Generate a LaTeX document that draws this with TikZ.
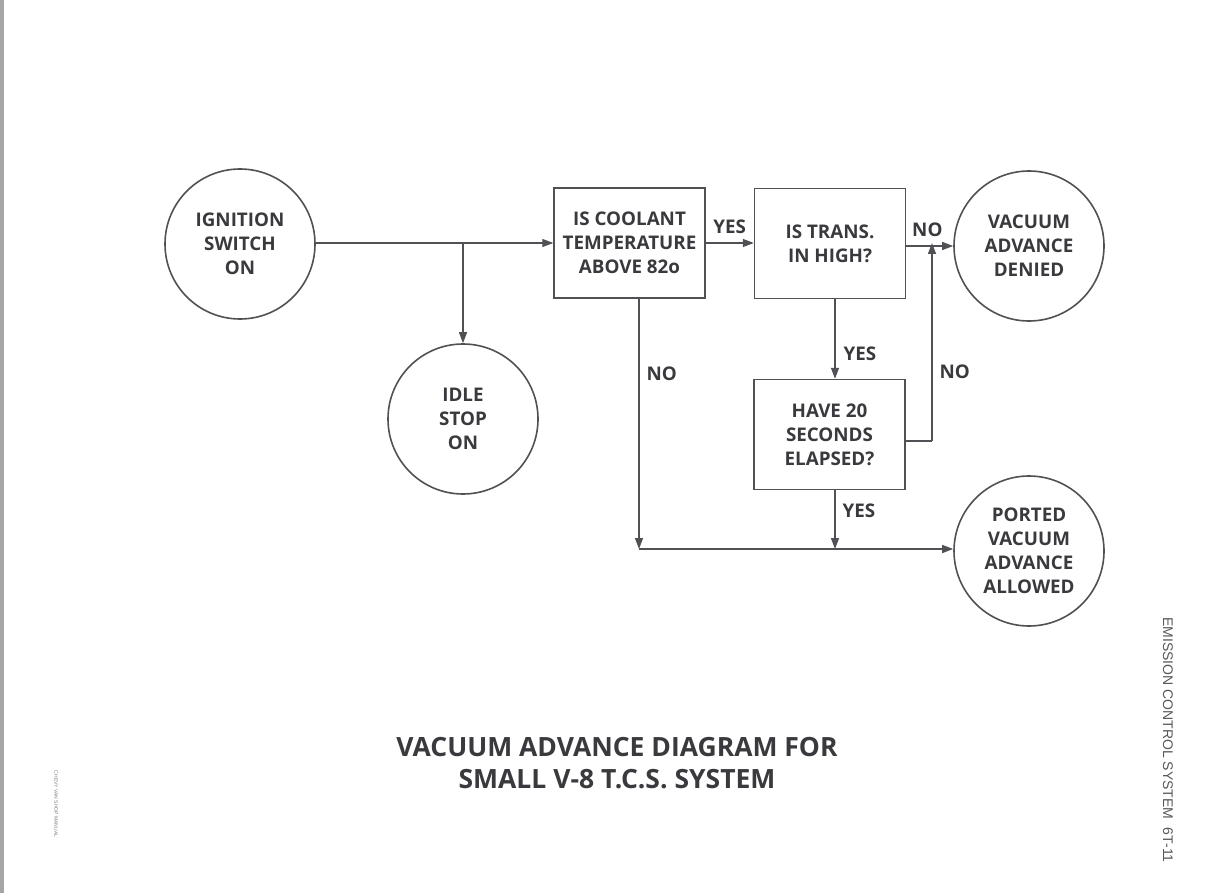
\documentclass[tikz,border=0pt]{standalone}
\usepackage{fontspec}
\setmainfont{Open Sans}
\newfontfamily\sidefont{Liberation Sans}
\usetikzlibrary{arrows.meta}
\definecolor{ink}{HTML}{3A3A3E}
\definecolor{linec}{HTML}{505055}
\tikzset{
  x=1pt,y=-1pt,
  every node/.style={text=ink,font=\fontsize{18.8}{24}\selectfont\bfseries,align=center},
  circ/.style={draw=linec,line width=1.6pt,circle,minimum size=150pt,inner sep=0pt},
  boxx/.style={draw=linec,line width=1.4pt,rectangle,minimum width=151pt,minimum height=110pt,inner sep=0pt},
  conn/.style={draw=linec,line width=1.3pt},
  arr/.style={conn,-{Triangle[length=11pt,width=8pt]}},
  lbl/.style={inner sep=0pt},
}
\begin{document}
\begin{tikzpicture}
\useasboundingbox (0,0) rectangle (1207,893);
\fill[gray!70] (0,0) rectangle (4,893);
\node[circ] (ign) at (240,244) {IGNITION\\SWITCH\\ON};
\node[circ] (idle) at (463,419) {IDLE\\STOP\\ON};
\node[boxx] (cool) at (629.5,243) {IS COOLANT\\TEMPERATURE\\ABOVE 82o};
\node[boxx] (trans) at (830,243.5) {IS TRANS.\\IN HIGH?};
\node[circ] (denied) at (1029,246) {VACUUM\\ADVANCE\\DENIED};
\node[boxx] (secs) at (829.5,434.5) {HAVE 20\\SECONDS\\ELAPSED?};
\node[circ] (ported) at (1029,551) {PORTED\\VACUUM\\ADVANCE\\ALLOWED};

\coordinate (j1) at (463,243);
\coordinate (nodrop) at (639,549);
\coordinate (yesdrop) at (835,549);
\coordinate (merge) at (932,246);
\coordinate (nocorner) at (932,441);

\draw[arr] (ign.east |- j1) -- (cool.west |- j1);
\draw[arr] (j1) -- (idle.north);
\draw[arr] (cool.east |- j1) -- (trans.west |- j1) node[lbl,midway,above=9pt] {YES};
\draw[arr] (trans.east |- merge) -- (denied.west) node[lbl,pos=0.45,above=9pt] {NO};
\draw[arr] (trans.south -| yesdrop) -- (secs.north -| yesdrop) node[lbl,pos=0.68,right=8pt] {YES};
\draw[conn] (secs.east |- nocorner) -- (nocorner);
\draw[arr] (nocorner) -- ([yshift=3pt]merge) node[lbl,pos=0.35,right=7pt] {NO};
\draw[arr] (cool.south -| nodrop) -- (nodrop) node[lbl,pos=0.3,right=7pt] {NO};
\draw[arr] (secs.south -| yesdrop) -- (yesdrop) node[lbl,pos=0.35,right=7pt] {YES};
\draw[arr] (nodrop) -- (ported.west |- nodrop);

\node[font=\fontsize{26.5}{32}\selectfont\bfseries] (title) at (617,763) {VACUUM ADVANCE DIAGRAM FOR\\SMALL V-8 T.C.S. SYSTEM};
\node[font=\sidefont\fontsize{14}{18}\selectfont,rotate=-90,text=ink!85] (side) at (1168,740) {EMISSION CONTROL SYSTEM\hspace{0.6em}6T-11};
\node[font=\sidefont\fontsize{5}{6}\selectfont,rotate=-90,text=gray] (man) at (56,804) {CHEVY VAN SHOP MANUAL};
\end{tikzpicture}
\end{document}
